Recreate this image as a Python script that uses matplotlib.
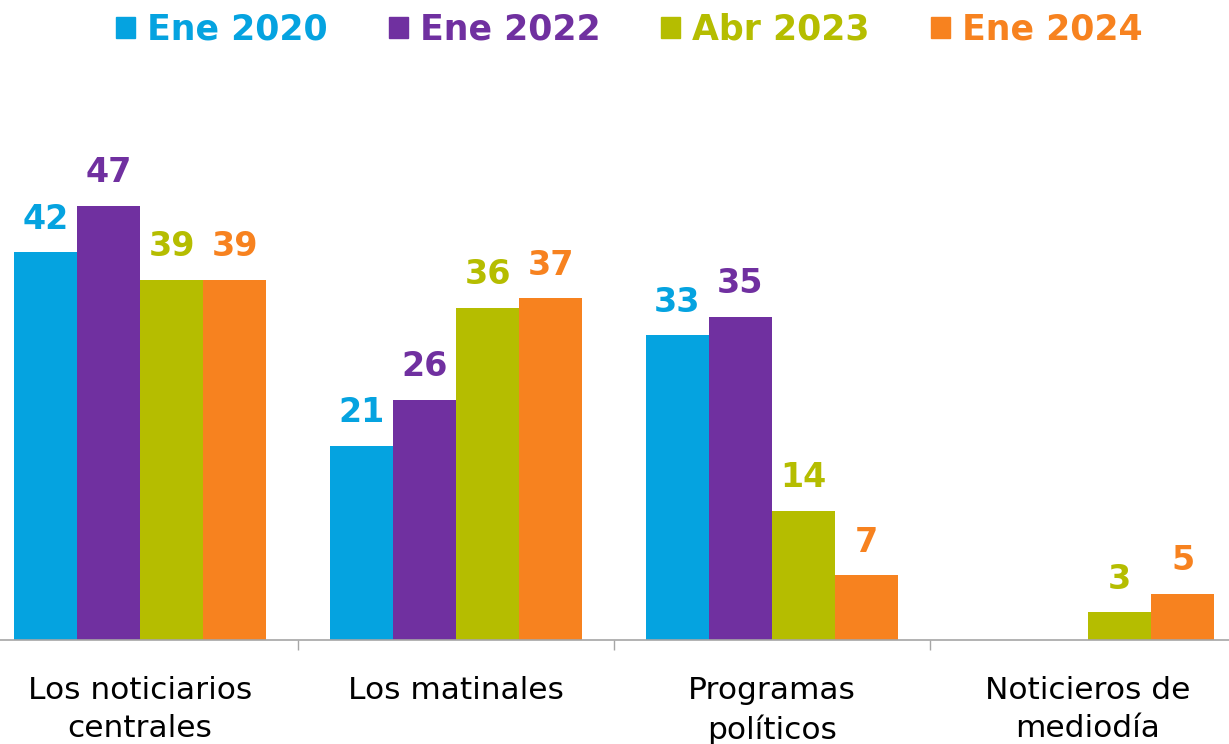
import matplotlib.pyplot as plt
from matplotlib.patches import Patch
import numpy as np

categories = ['Los noticiarios\ncentrales', 'Los matinales', 'Programas\npolíticos', 'Noticieros de\nmediodía']
series = ['Ene 2020', 'Ene 2022', 'Abr 2023', 'Ene 2024']
ene2020 = [42, 21, 33, None]
ene2022 = [47, 26, 35, None]
abr2023 = [39, 36, 14, 3]
ene2024 = [39, 37, 7, 5]
colors = ['#05A3E0', '#7030A0', '#B5BD00', '#F7821F']

plt.rcParams['font.family'] = ['DejaVu Sans']

fig = plt.figure(figsize=(12.29, 7.44), dpi=100)
ax = fig.add_axes([-18/1229, 104/744, 1264/1229, 480/744])

x = np.arange(len(categories))
w = 0.2
for i, vals in enumerate([ene2020, ene2022, abr2023, ene2024]):
    h = [v if v is not None else 0 for v in vals]
    bars = ax.bar(x + (i - 1.5) * w, h, w, color=colors[i])
    labs = [str(v) if v is not None else '' for v in vals]
    ax.bar_label(bars, labels=labs, padding=12, color=colors[i],
                 fontsize=24, fontweight='heavy')

ax.set_xlim(-0.5, 3.5)
ax.set_ylim(0, 52)
ax.set_yticks([])
for s in ['top', 'right', 'left']:
    ax.spines[s].set_visible(False)
ax.spines['bottom'].set_color('#A6A6A6')
ax.spines['bottom'].set_linewidth(1.2)
ax.set_xticks(x)
ax.set_xticklabels(categories, fontsize=22.5, linespacing=1.4)
ax.tick_params(axis='x', which='major', length=0, pad=26)
ax.set_xticks([0.5, 1.5, 2.5], minor=True)
ax.tick_params(axis='x', which='minor', length=7, color='#A6A6A6', width=1)

handles = [Patch(color=c) for c in colors]
fig.legend(handles, series, loc='upper center', bbox_to_anchor=(0.512, 1.025), ncol=4,
           frameon=False, handlelength=0.55, handleheight=0.55, handletextpad=0.35,
           columnspacing=1.75, labelcolor=colors,
           prop={'size': 25, 'weight': 'bold'})

fig.savefig('out.png', dpi=100)
